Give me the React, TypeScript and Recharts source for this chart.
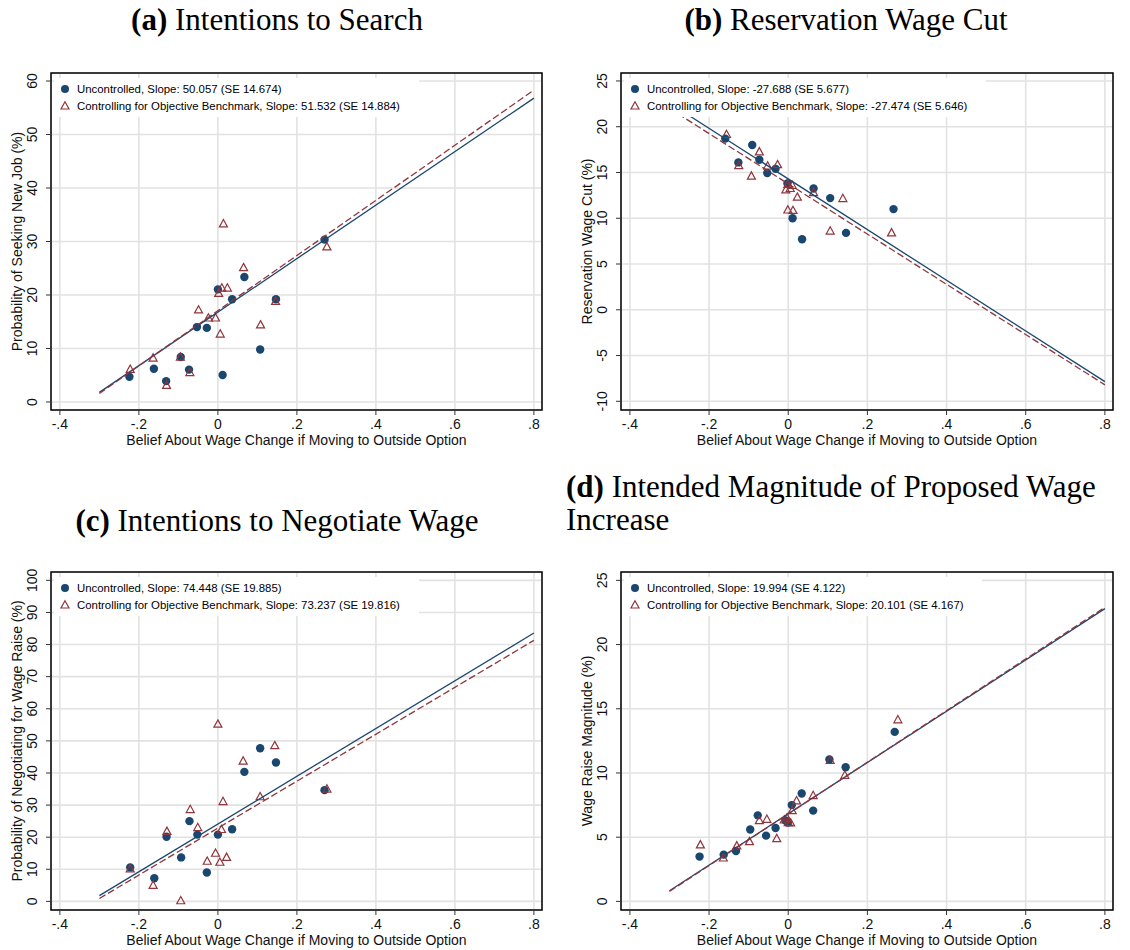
import React from 'react';
import { ScatterChart, Scatter, XAxis, YAxis, CartesianGrid, ReferenceArea } from 'recharts';

const NAVY = '#1a476f';
const MAROON = '#90353b';
const SANS = '"Liberation Sans", Arial, sans-serif';
const SERIF = '"Liberation Serif", "Times New Roman", serif';

// shared x axis
const xTicks = [-0.4, -0.2, 0, 0.2, 0.4, 0.6, 0.8];
const xTickLabels = ['-.4', '-.2', '0', '.2', '.4', '.6', '.8'];
const xTitle = 'Belief About Wage Change if Moving to Outside Option';

// (a) Intentions to Search
const searchUncontrolled = [
  [-0.224, 4.7], [-0.162, 6.2], [-0.131, 3.9], [-0.094, 8.4], [-0.073, 6.05], [-0.053, 14.0],
  [-0.028, 13.85], [0.0, 21.05], [0.012, 5.05], [0.036, 19.2], [0.067, 23.35], [0.107, 9.8],
  [0.147, 19.2], [0.27, 30.35],
];
const searchControlled = [
  [-0.222, 6.1], [-0.164, 8.2], [-0.13, 3.1], [-0.095, 8.4], [-0.071, 5.5], [-0.049, 17.2],
  [-0.024, 15.7], [-0.006, 15.7], [0.002, 20.3], [0.01, 21.3], [0.024, 21.3], [0.006, 12.7],
  [0.014, 33.3], [0.065, 25.1], [0.108, 14.4], [0.146, 18.8], [0.276, 29.0],
];
const searchFitUncontrolled = [[-0.3, 1.8], [0.8, 56.8]];
const searchFitControlled = [[-0.3, 1.6], [0.8, 58.3]];
const searchYTicks = [0, 10, 20, 30, 40, 50, 60];
const searchYTickLabels = ['0', '10', '20', '30', '40', '50', '60'];
const searchLegend = ['Uncontrolled, Slope: 50.057 (SE 14.674)', 'Controlling for Objective Benchmark, Slope: 51.532 (SE 14.884)'];

// (b) Reservation Wage Cut
const cutUncontrolled = [
  [-0.159, 18.7], [-0.126, 16.1], [-0.091, 18.0], [-0.073, 16.4], [-0.053, 14.95], [-0.032, 15.4],
  [-0.002, 13.8], [0.011, 10.0], [0.035, 7.7], [0.064, 13.25], [0.106, 12.2], [0.146, 8.4],
  [0.266, 11.0],
];
const cutControlled = [
  [-0.156, 19.15], [-0.125, 15.75], [-0.093, 14.6], [-0.073, 17.25], [-0.052, 15.7], [-0.027, 15.85],
  [-0.001, 13.7], [-0.006, 13.1], [0.005, 13.25], [0.01, 13.6], [0.023, 12.3], [0.064, 12.8],
  [0.138, 12.15], [-0.001, 10.9], [0.012, 10.85], [0.106, 8.6], [0.261, 8.4],
];
const cutFitUncontrolled = [[-0.3, 22.6], [0.8, -7.85]];
const cutFitControlled = [[-0.3, 22.0], [0.8, -8.2]];
const cutYTicks = [-10, -5, 0, 5, 10, 15, 20, 25];
const cutYTickLabels = ['-10', '-5', '0', '5', '10', '15', '20', '25'];
const cutLegend = ['Uncontrolled, Slope: -27.688 (SE 5.677)', 'Controlling for Objective Benchmark, Slope: -27.474 (SE 5.646)'];

// (c) Intentions to Negotiate Wage
const negUncontrolled = [
  [-0.222, 10.6], [-0.161, 7.2], [-0.13, 20.15], [-0.093, 13.7], [-0.072, 25.0], [-0.052, 20.8],
  [-0.028, 9.0], [0.0, 20.8], [0.036, 22.45], [0.067, 40.35], [0.107, 47.7], [0.147, 43.25],
  [0.27, 34.65],
];
const negControlled = [
  [-0.222, 10.1], [-0.164, 5.0], [-0.129, 21.8], [-0.094, 0.2], [-0.07, 28.6], [-0.051, 23.0],
  [0.0, 55.2], [0.013, 31.1], [0.009, 22.4], [-0.006, 15.0], [-0.027, 12.5], [0.005, 12.2],
  [0.022, 13.7], [0.064, 43.7], [0.107, 32.6], [0.144, 48.5], [0.276, 35.0],
];
const negFitUncontrolled = [[-0.3, 1.8], [0.8, 83.6]];
const negFitControlled = [[-0.3, 0.9], [0.8, 81.3]];
const negYTicks = [0, 10, 20, 30, 40, 50, 60, 70, 80, 90, 100];
const negYTickLabels = ['0', '10', '20', '30', '40', '50', '60', '70', '80', '90', '100'];
const negLegend = ['Uncontrolled, Slope: 74.448 (SE 19.885)', 'Controlling for Objective Benchmark, Slope: 73.237 (SE 19.816)'];

// (d) Intended Magnitude of Proposed Wage Increase
const magUncontrolled = [
  [-0.224, 3.49], [-0.163, 3.64], [-0.132, 3.93], [-0.096, 5.6], [-0.077, 6.7], [-0.056, 5.12],
  [-0.032, 5.72], [-0.007, 6.3], [-0.001, 6.14], [0.009, 7.5], [0.034, 8.4], [0.063, 7.07],
  [0.104, 11.05], [0.145, 10.45], [0.269, 13.2],
];
const magControlled = [
  [-0.222, 4.4], [-0.164, 3.38], [-0.13, 4.32], [-0.098, 4.65], [-0.073, 6.29], [-0.054, 6.39],
  [-0.029, 4.89], [-0.01, 6.34], [-0.003, 6.5], [0.0, 6.14], [0.006, 6.11], [0.01, 7.07],
  [0.021, 7.83], [0.063, 8.24], [0.106, 10.97], [0.143, 9.82], [0.277, 14.14],
];
const magFitUncontrolled = [[-0.3, 0.83], [0.8, 22.8]];
const magFitControlled = [[-0.3, 0.78], [0.8, 22.9]];
const magYTicks = [0, 5, 10, 15, 20, 25];
const magYTickLabels = ['0', '5', '10', '15', '20', '25'];
const magLegend = ['Uncontrolled, Slope: 19.994 (SE 4.122)', 'Controlling for Objective Benchmark, Slope: 20.101 (SE 4.167)'];

const toPts = (arr: number[][]) => arr.map(([x, y]) => ({ x, y }));

const X_DOMAIN: [number, number] = [-0.4225, 0.8205];
const Y_AXIS_W = 51;

const labelFor = (ticks: number[], labels: string[], v: number) => {
  const i = ticks.findIndex((t) => Math.abs(t - v) < 1e-9);
  return i >= 0 ? labels[i] : String(v);
};

const Dot = (p: any) => <circle cx={p.cx} cy={p.cy} r={4.2} fill={NAVY} />;
const Tri = (p: any) => (
  <path
    d={`M${p.cx},${p.cy - 4.3} L${p.cx + 4},${p.cy + 3} L${p.cx - 4},${p.cy + 3} Z`}
    fill="none"
    stroke={MAROON}
    strokeWidth={1.2}
  />
);
const NoShape = () => <g />;

type PanelProps = {
  left: number; top: number; width: number; height: number;
  marginTop: number; marginRight: number; xAxisHeight: number;
  yDomain: [number, number]; yTicks: number[]; yTickLabels: string[]; yTitle: string;
  unc: number[][]; ctl: number[][]; fitUnc: number[][]; fitCtl: number[][];
  legend: string[]; legendWidth: number;
};

function Panel(props: PanelProps) {
  const { left, top, width, height, marginTop, marginRight, xAxisHeight, yDomain, yTicks, yTickLabels, yTitle,
    unc, ctl, fitUnc, fitCtl, legend, legendWidth } = props;
  const plotLeft = Y_AXIS_W;
  const plotRight = width - marginRight;
  const plotBottom = height - xAxisHeight;
  const plotTop = marginTop;

  const XTick = (p: any) => (
    <text x={p.x} y={p.y + 12} textAnchor="middle" fontFamily={SANS} fontSize={14} fill="#111">
      {labelFor(xTicks, xTickLabels, p.payload.value)}
    </text>
  );
  const YTick = (p: any) => {
    const bx = p.x - 7;
    return (
      <text x={bx} y={p.y} transform={`rotate(-90 ${bx} ${p.y})`} textAnchor="middle" fontFamily={SANS} fontSize={14} fill="#111">
        {labelFor(yTicks, yTickLabels, p.payload.value)}
      </text>
    );
  };
  const XLabel = () => (
    <text x={(plotLeft + plotRight) / 2} y={plotBottom + 34.5} textAnchor="middle" fontFamily={SANS} fontSize={14} fill="#111">
      {xTitle}
    </text>
  );
  const yMid = (plotTop + plotBottom) / 2;
  const yBase = plotLeft - 29.5;
  const YLabel = () => (
    <text x={yBase} y={yMid} transform={`rotate(-90 ${yBase} ${yMid})`} textAnchor="middle" fontFamily={SANS} fontSize={14} fill="#111">
      {yTitle}
    </text>
  );

  return (
    <div style={{ position: 'absolute', left, top, width, height }}>
      <ScatterChart width={width} height={height} margin={{ top: marginTop, right: marginRight, bottom: 0, left: 0 }}>
        <CartesianGrid stroke="#e2e2e2" strokeWidth={1.6} />
        <XAxis
          type="number" dataKey="x" domain={X_DOMAIN} ticks={xTicks} interval={0} allowDataOverflow
          height={xAxisHeight} tick={XTick} tickSize={5} tickLine={{ stroke: '#333' }} axisLine={false}
          label={XLabel}
        />
        <YAxis
          type="number" dataKey="y" domain={yDomain} ticks={yTicks} interval={0} allowDataOverflow
          width={Y_AXIS_W} tick={YTick} tickSize={5} tickLine={{ stroke: '#333' }} axisLine={false}
          label={YLabel}
        />
        <Scatter data={toPts(unc)} shape={Dot} isAnimationActive={false} />
        <Scatter data={toPts(ctl)} shape={Tri} isAnimationActive={false} />
        <Scatter data={toPts(fitUnc)} shape={NoShape} line={{ stroke: NAVY, strokeWidth: 1.3 }} isAnimationActive={false} />
        <Scatter data={toPts(fitCtl)} shape={NoShape} line={{ stroke: MAROON, strokeWidth: 1.3, strokeDasharray: '7 3' }} isAnimationActive={false} />
        <ReferenceArea x1={X_DOMAIN[0]} x2={X_DOMAIN[1]} y1={yDomain[0]} y2={yDomain[1]} fill="none" fillOpacity={0} stroke="#000" strokeWidth={1.5} ifOverflow="visible" />
      </ScatterChart>
      <div
        style={{
          position: 'absolute', left: plotLeft + 3, top: plotTop + 5, width: legendWidth, height: 39,
          background: '#fff', fontFamily: SANS, fontSize: 11.4, color: '#000',
        }}
      >
        <div style={{ position: 'absolute', left: 0, top: 3, height: 16, lineHeight: '16px', whiteSpace: 'nowrap' }}>
          <svg width={22} height={16} style={{ position: 'absolute', left: 0, top: 0 }}>
            <circle cx={11} cy={8} r={4} fill={NAVY} />
          </svg>
          <span style={{ position: 'absolute', left: 23, top: 0 }}>{legend[0]}</span>
        </div>
        <div style={{ position: 'absolute', left: 0, top: 19.5, height: 16, lineHeight: '16px', whiteSpace: 'nowrap' }}>
          <svg width={22} height={16} style={{ position: 'absolute', left: 0, top: 0 }}>
            <path d="M11,3.7 L15,11 L7,11 Z" fill="none" stroke={MAROON} strokeWidth={1.2} />
          </svg>
          <span style={{ position: 'absolute', left: 23, top: 0 }}>{legend[1]}</span>
        </div>
      </div>
    </div>
  );
}

export default function App() {
  return (
    <div style={{ position: 'absolute', left: 0, top: 0, width: 1130, height: 950, background: '#fff', overflow: 'hidden' }}>
      <svg width={1130} height={950} style={{ position: 'absolute', left: 0, top: 0 }}>
        <text x={277} y={30} textAnchor="middle" fontFamily={SERIF} fontSize={31} fill="#000">
          <tspan fontWeight="bold">(a)</tspan>{' Intentions to Search'}
        </text>
        <text x={846} y={30} textAnchor="middle" fontFamily={SERIF} fontSize={31} fill="#000">
          <tspan fontWeight="bold">(b)</tspan>{' Reservation Wage Cut'}
        </text>
        <text x={277} y={531} textAnchor="middle" fontFamily={SERIF} fontSize={31} fill="#000">
          <tspan fontWeight="bold">(c)</tspan>{' Intentions to Negotiate Wage'}
        </text>
        <text x={566} y={497} textAnchor="start" fontFamily={SERIF} fontSize={31} fill="#000">
          <tspan fontWeight="bold">(d)</tspan>{' Intended Magnitude of Proposed Wage'}
        </text>
        <text x={566} y={530} textAnchor="start" fontFamily={SERIF} fontSize={31} fill="#000">
          Increase
        </text>
      </svg>
      <Panel left={0} top={60} width={560} height={400} marginTop={13} marginRight={18} xAxisHeight={50}
        yDomain={[-1.5, 61.5]} yTicks={searchYTicks} yTickLabels={searchYTickLabels}
        yTitle="Probability of Seeking New Job (%)"
        unc={searchUncontrolled} ctl={searchControlled} fitUnc={searchFitUncontrolled} fitCtl={searchFitControlled}
        legend={searchLegend} legendWidth={365} />
      <Panel left={570} top={60} width={560} height={400} marginTop={13} marginRight={17} xAxisHeight={50}
        yDomain={[-10.95, 25.87]} yTicks={cutYTicks} yTickLabels={cutYTickLabels}
        yTitle="Reservation Wage Cut (%)"
        unc={cutUncontrolled} ctl={cutControlled} fitUnc={cutFitUncontrolled} fitCtl={cutFitControlled}
        legend={cutLegend} legendWidth={362} />
      <Panel left={0} top={560} width={560} height={390} marginTop={12} marginRight={18} xAxisHeight={40}
        yDomain={[-2.68, 102.6]} yTicks={negYTicks} yTickLabels={negYTickLabels}
        yTitle="Probability of Negotiating for Wage Raise (%)"
        unc={negUncontrolled} ctl={negControlled} fitUnc={negFitUncontrolled} fitCtl={negFitControlled}
        legend={negLegend} legendWidth={365} />
      <Panel left={570} top={560} width={560} height={390} marginTop={12} marginRight={17} xAxisHeight={40}
        yDomain={[-0.67, 25.65]} yTicks={magYTicks} yTickLabels={magYTickLabels}
        yTitle="Wage Raise Magnitude (%)"
        unc={magUncontrolled} ctl={magControlled} fitUnc={magFitUncontrolled} fitCtl={magFitControlled}
        legend={magLegend} legendWidth={358} />
    </div>
  );
}
